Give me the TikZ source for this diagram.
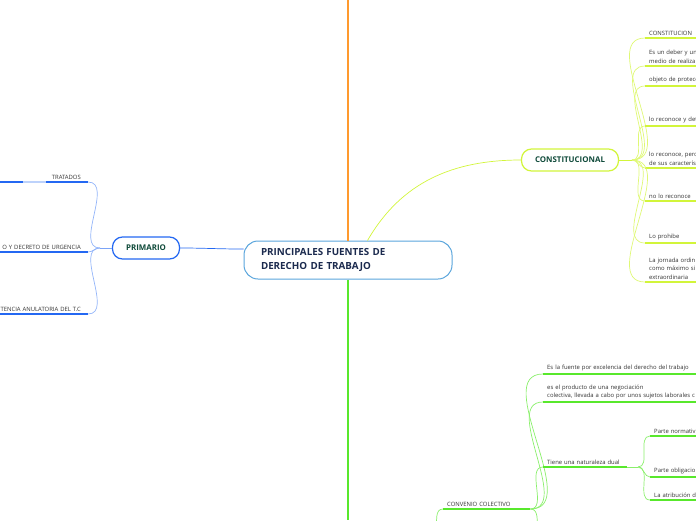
\documentclass[tikz,border=0pt]{standalone}
\usepackage{fontspec}
\setmainfont{Open Sans}
\definecolor{txt}{HTML}{333333}
\definecolor{navy}{HTML}{1B2A4E}
\definecolor{dgreen}{HTML}{0F4A3A}
\definecolor{cborder}{HTML}{5AA5DC}
\definecolor{blu}{HTML}{2468F2}
\definecolor{yel}{HTML}{D2F53A}
\definecolor{grn}{HTML}{58E82C}
\definecolor{orng}{HTML}{FF9A2E}

\begin{document}
\begin{tikzpicture}[x=1pt,y=-1pt,
	every node/.style={font=\fontsize{5.9}{8.5}\selectfont, text=txt},
	centro/.style={draw=cborder, line width=1pt, fill=white, rounded corners=14pt,
		minimum width=208pt, minimum height=38pt, text width=174pt, inner xsep=17pt,
		align=left, text=navy, font=\bfseries\fontsize{9.8}{13.5}\selectfont},
	rama/.style={line width=1.2pt, fill=white, rounded corners=10pt, minimum height=22pt,
		text=dgreen, font=\bfseries\fontsize{7.9}{9}\selectfont},
	topicR/.style={anchor=south west, align=left, inner xsep=4pt, inner ysep=2.5pt, text width=80pt},
	topicL/.style={anchor=south east, align=right, inner xsep=7pt, inner ysep=2.5pt, text width=110pt},
	under/.style={line width=1.6pt},
	curva/.style={line width=0.7pt}
	]
	\useasboundingbox (0,0) rectangle (696,520);
	\clip (0,0) rectangle (696,520);

	% central topic
	\node[centro] (fuentes) at (348,260) {PRINCIPALES FUENTES DE\\DERECHO DE TRABAJO};
	\coordinate (arriba) at (348,0);
	\coordinate (abajo) at (348,520);
	\draw[orng, line width=1.3pt] (fuentes.north) -- (arriba);
	\draw[grn, line width=1.3pt] (fuentes.south) -- (abajo);

	% primario
	\node[rama, draw=blu, minimum width=67pt] (primario) at (146,248) {PRIMARIO};
	\draw[blu, curva] (fuentes.174) to[out=180,in=0] (primario.east);
	\node[topicL] (tratados) at (88,182) {TRATADOS};
	\node[topicL] (decreto) at (88,252) {O Y DECRETO DE URGENCIA};
	\node[topicL] (sentencia) at (88,314) {TENCIA ANULATORIA DEL T.C};
	\coordinate (pb) at (100,248);
	\draw[blu!60, curva] (primario.west) -- (pb);
	\draw[blu!50, curva] (pb) to[out=180,in=0] (tratados.south east);
	\draw[blu!50, curva] (pb) to[out=180,in=0] (decreto.south east);
	\draw[blu!50, curva] (pb) to[out=180,in=0] (sentencia.south east);
	\draw[blu, under] (tratados.south west) -- (tratados.south east);
	\draw[blu!30, under] (23,182) -- (46,182);
	\draw[blu, under] (decreto.south west) -- (decreto.south east);
	\draw[blu, under] (sentencia.south west) -- (sentencia.south east);

	% constitucional
	\node[rama, draw=yel, minimum width=97pt] (const) at (570,160) {CONSTITUCIONAL};
	\draw[yel, curva] (fuentes.45) to[out=60,in=180] (const.west);
	\node[topicR] (c1) at (645,38) {CONSTITUCION};
	\node[topicR] (c2) at (645,66) {Es un deber y un\\medio de realiza};
	\node[topicR] (c3) at (645,86) {objeto de protecc};
	\node[topicR] (c4) at (645,126) {lo reconoce y det};
	\node[topicR] (c5) at (645,168) {lo reconoce, pero\\de sus caracterís};
	\node[topicR] (c6) at (645,201) {no lo reconoce};
	\node[topicR] (c7) at (645,243) {Lo prohibe};
	\node[topicR] (c8) at (645,282) {La jornada ordin\\como máximo si\\extraordinaria};
	\coordinate (cb) at (632,160);
	\draw[yel, curva] (const.east) -- (cb);
	\foreach \n in {c1,c2,c3,c4,c5,c6,c7,c8}{
		\draw[yel!70, curva] (cb) to[out=0,in=180] (\n.south west);
		\draw[yel, under] (\n.south west) -- (\n.south east);
	}

	% convenio colectivo
	\node[topicR, text width=79pt] (convenio) at (443,509) {CONVENIO COLECTIVO};
	\node[topicR, text width=170pt] (v1) at (543,374) {Es la fuente por excelencia del derecho del trabajo};
	\node[topicR, text width=170pt] (v2) at (543,402) {es el producto de una negociación\\colectiva, llevada a cabo por unos sujetos laborales c};
	\node[topicR, text width=76pt] (v3) at (543,467) {Tiene una naturaleza dual};
	\node[topicR] (d1) at (650,436) {Parte normativ};
	\node[topicR] (d2) at (650,477) {Parte obligacio};
	\node[topicR] (d3) at (650,500) {La atribución d};
	\coordinate (cvin) at (436,530);
	\coordinate (cvout) at (538,530);
	\coordinate (db) at (638,467);
	\draw[grn!70, curva] (cvin) to[out=80,in=180] (convenio.south west);
	\draw[grn, under] (convenio.south west) -- (convenio.south east);
	\draw[grn!70, curva] (convenio.south east) to[out=0,in=100] (cvout);
	\foreach \n in {v1,v2,v3}{
		\draw[grn!70, curva] (convenio.south east) to[out=0,in=180] (\n.south west);
		\draw[grn, under] (\n.south west) -- (\n.south east);
	}
	\draw[grn!70, curva] (v3.south east) -- (db);
	\foreach \n in {d1,d2,d3}{
		\draw[grn!70, curva] (db) to[out=0,in=180] (\n.south west);
		\draw[grn, under] (\n.south west) -- (\n.south east);
	}
\end{tikzpicture}
\end{document}
